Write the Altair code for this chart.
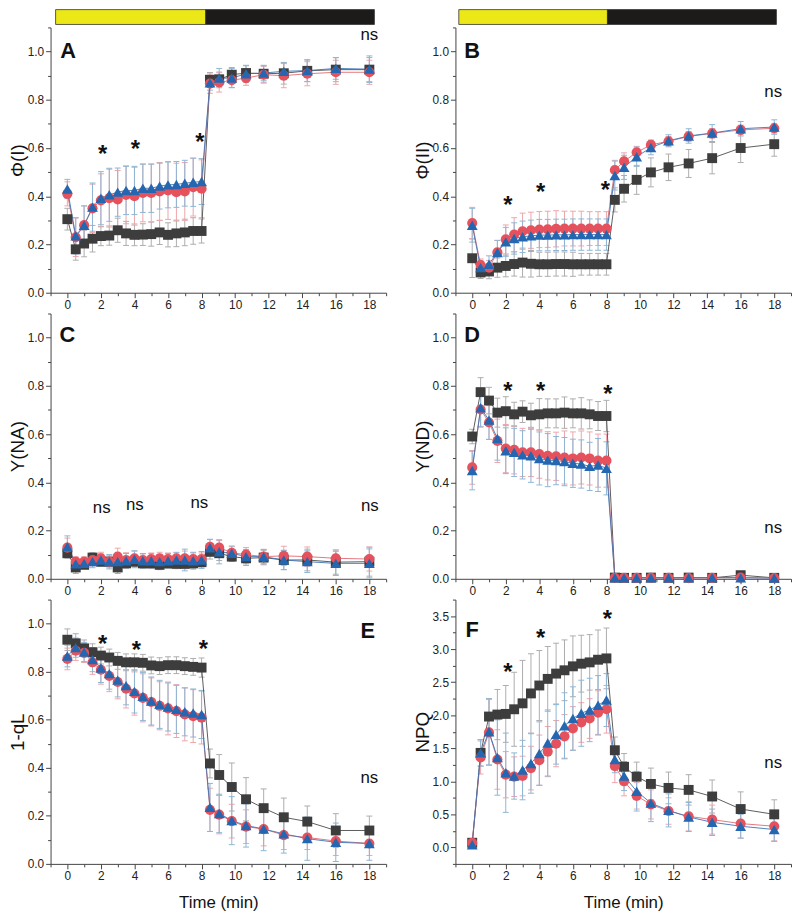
import altair as alt
import pandas as pd

# ---------------- data ----------------
T = [0, 0.5, 1, 1.5, 2, 2.5, 3, 3.5, 4, 4.5, 5, 5.5, 6, 6.5, 7, 7.5, 8,
     8.5, 9.05, 9.8, 10.65, 11.7, 12.9, 14.3, 16, 18]

# Panel A  Φ(I)
A_K = [0.305, 0.18, 0.204, 0.224, 0.235, 0.237, 0.259, 0.246, 0.24, 0.241, 0.243, 0.25, 0.24, 0.246, 0.25, 0.256, 0.256,
       0.883, 0.885, 0.904, 0.911, 0.908, 0.91, 0.92, 0.925, 0.925]
A_R = [0.41, 0.23, 0.28, 0.35, 0.383, 0.392, 0.387, 0.406, 0.40, 0.414, 0.414, 0.42, 0.424, 0.417, 0.42, 0.438, 0.431,
       0.867, 0.872, 0.881, 0.89, 0.904, 0.90, 0.908, 0.914, 0.914]
A_B = [0.43, 0.236, 0.28, 0.355, 0.392, 0.406, 0.417, 0.424, 0.424, 0.433, 0.433, 0.442, 0.447, 0.449, 0.454, 0.458, 0.461,
       0.87, 0.89, 0.89, 0.908, 0.911, 0.918, 0.921, 0.93, 0.927]
A_K_E = [0.045, 0.045, 0.055, 0.055, 0.04, 0.04, 0.05, 0.05, 0.045, 0.045, 0.05, 0.05, 0.05, 0.055, 0.055, 0.055, 0.05,
         0.03, 0.03, 0.03, 0.03, 0.035, 0.045, 0.045, 0.05, 0.05]
A_R_E = [0.05, 0.08, 0.08, 0.1, 0.11, 0.12, 0.12, 0.12, 0.12, 0.12, 0.12, 0.12, 0.12, 0.12, 0.12, 0.12, 0.12,
         0.04, 0.04, 0.03, 0.03, 0.035, 0.05, 0.05, 0.05, 0.05]
A_B_E = [0.04, 0.075, 0.08, 0.1, 0.11, 0.11, 0.1, 0.1, 0.1, 0.1, 0.1, 0.095, 0.095, 0.095, 0.095, 0.1, 0.095,
         0.03, 0.04, 0.04, 0.035, 0.03, 0.035, 0.045, 0.045, 0.055]

# Panel B  Φ(II)
B_K = [0.143, 0.084, 0.088, 0.104, 0.111, 0.119, 0.125, 0.12, 0.118, 0.118, 0.119, 0.119, 0.118, 0.118, 0.118, 0.118, 0.118,
       0.385, 0.431, 0.468, 0.499, 0.52, 0.536, 0.558, 0.6, 0.616]
B_R = [0.289, 0.115, 0.104, 0.167, 0.221, 0.241, 0.255, 0.259, 0.262, 0.263, 0.265, 0.266, 0.266, 0.266, 0.266, 0.266, 0.266,
       0.509, 0.545, 0.582, 0.613, 0.628, 0.648, 0.661, 0.675, 0.682]
B_B = [0.28, 0.104, 0.118, 0.167, 0.211, 0.225, 0.232, 0.236, 0.239, 0.239, 0.24, 0.24, 0.241, 0.241, 0.241, 0.241, 0.241,
       0.486, 0.52, 0.564, 0.602, 0.63, 0.65, 0.662, 0.68, 0.687]
B_K_E = [0.08, 0.025, 0.03, 0.04, 0.045, 0.05, 0.06, 0.055, 0.05, 0.05, 0.05, 0.05, 0.05, 0.045, 0.045, 0.045, 0.045,
         0.05, 0.055, 0.06, 0.06, 0.055, 0.058, 0.065, 0.06, 0.05]
B_R_E = [0.065, 0.025, 0.03, 0.05, 0.06, 0.07, 0.075, 0.075, 0.075, 0.075, 0.075, 0.072, 0.072, 0.072, 0.07, 0.07, 0.07,
         0.04, 0.035, 0.025, 0.02, 0.02, 0.02, 0.02, 0.02, 0.02]
B_B_E = [0.07, 0.03, 0.035, 0.05, 0.06, 0.065, 0.065, 0.065, 0.065, 0.065, 0.065, 0.065, 0.065, 0.065, 0.065, 0.065, 0.065,
         0.06, 0.05, 0.04, 0.03, 0.025, 0.03, 0.035, 0.03, 0.03]

# Panel C  Y(NA)
C_K = [0.106, 0.047, 0.058, 0.088, 0.071, 0.071, 0.047, 0.064, 0.071, 0.064, 0.064, 0.058, 0.064, 0.062, 0.062, 0.064, 0.069,
       0.112, 0.106, 0.092, 0.085, 0.088, 0.078, 0.078, 0.069, 0.071]
C_R = [0.129, 0.071, 0.071, 0.078, 0.085, 0.071, 0.092, 0.078, 0.085, 0.078, 0.082, 0.085, 0.082, 0.085, 0.085, 0.082, 0.082,
       0.133, 0.129, 0.108, 0.1, 0.092, 0.095, 0.092, 0.085, 0.082]
C_B = [0.133, 0.062, 0.064, 0.071, 0.078, 0.071, 0.071, 0.075, 0.081, 0.075, 0.075, 0.071, 0.075, 0.078, 0.078, 0.075, 0.078,
       0.129, 0.112, 0.106, 0.092, 0.092, 0.078, 0.071, 0.064, 0.064]
C_K_E = [0.02, 0.025, 0.015, 0.02, 0.02, 0.02, 0.025, 0.02, 0.02, 0.02, 0.02, 0.02, 0.02, 0.02, 0.02, 0.02, 0.02,
         0.03, 0.03, 0.02, 0.03, 0.03, 0.04, 0.045, 0.05, 0.06]
C_R_E = [0.04, 0.02, 0.02, 0.025, 0.025, 0.025, 0.035, 0.03, 0.03, 0.025, 0.025, 0.025, 0.025, 0.025, 0.03, 0.025, 0.025,
         0.03, 0.03, 0.025, 0.03, 0.03, 0.04, 0.04, 0.035, 0.05]
C_B_E = [0.045, 0.02, 0.02, 0.025, 0.025, 0.03, 0.03, 0.03, 0.035, 0.03, 0.03, 0.03, 0.03, 0.03, 0.045, 0.035, 0.035,
         0.035, 0.05, 0.03, 0.03, 0.03, 0.04, 0.045, 0.05, 0.06]

# Panel D  Y(ND)
D_K = [0.59, 0.774, 0.739, 0.689, 0.695, 0.682, 0.693, 0.678, 0.682, 0.686, 0.686, 0.689, 0.686, 0.686, 0.682, 0.675, 0.675,
       0.005, 0.004, 0.004, 0.005, 0.004, 0.005, 0.004, 0.015, 0.004]
D_R = [0.462, 0.702, 0.648, 0.572, 0.54, 0.535, 0.524, 0.524, 0.517, 0.51, 0.508, 0.503, 0.499, 0.503, 0.499, 0.49, 0.49,
       0.004, 0.004, 0.004, 0.004, 0.004, 0.003, 0.004, 0.005, 0.003]
D_B = [0.449, 0.709, 0.658, 0.582, 0.531, 0.524, 0.514, 0.51, 0.499, 0.492, 0.49, 0.486, 0.479, 0.476, 0.466, 0.472, 0.458,
       0.004, 0.004, 0.004, 0.004, 0.004, 0.004, 0.005, 0.004, 0.003]
D_K_E = [0.03, 0.06, 0.055, 0.06, 0.06, 0.05, 0.045, 0.05, 0.065, 0.06, 0.06, 0.065, 0.06, 0.065, 0.06, 0.06, 0.065,
         0.003, 0.003, 0.003, 0.003, 0.003, 0.003, 0.003, 0.008, 0.003]
D_R_E = [0.07, 0.07, 0.07, 0.09, 0.1, 0.1, 0.1, 0.1, 0.1, 0.1, 0.1, 0.11, 0.11, 0.11, 0.11, 0.11, 0.11,
         0.003, 0.003, 0.003, 0.003, 0.003, 0.003, 0.003, 0.004, 0.003]
D_B_E = [0.08, 0.08, 0.08, 0.09, 0.095, 0.1, 0.1, 0.11, 0.11, 0.11, 0.1, 0.1, 0.1, 0.1, 0.1, 0.11, 0.11,
         0.003, 0.003, 0.003, 0.003, 0.003, 0.003, 0.003, 0.004, 0.003]

# Panel E  1-qL
E_K = [0.933, 0.918, 0.897, 0.881, 0.867, 0.859, 0.845, 0.839, 0.839, 0.837, 0.826, 0.823, 0.827, 0.827, 0.823, 0.82, 0.817,
       0.418, 0.37, 0.32, 0.269, 0.232, 0.194, 0.176, 0.139, 0.139]
E_R = [0.853, 0.887, 0.878, 0.839, 0.808, 0.782, 0.757, 0.729, 0.709, 0.691, 0.674, 0.658, 0.647, 0.636, 0.622, 0.615, 0.609,
       0.225, 0.205, 0.178, 0.155, 0.145, 0.12, 0.11, 0.095, 0.085]
E_B = [0.865, 0.9, 0.882, 0.85, 0.815, 0.792, 0.765, 0.742, 0.718, 0.697, 0.678, 0.664, 0.653, 0.643, 0.633, 0.628, 0.622,
       0.235, 0.21, 0.18, 0.16, 0.145, 0.125, 0.105, 0.09, 0.085]
E_K_E = [0.045, 0.04, 0.035, 0.035, 0.035, 0.035, 0.035, 0.035, 0.035, 0.035, 0.035, 0.035, 0.035, 0.035, 0.035, 0.035, 0.04,
         0.06, 0.085, 0.1, 0.09, 0.08, 0.08, 0.065, 0.07, 0.06]
E_R_E = [0.045, 0.04, 0.04, 0.05, 0.06, 0.065, 0.07, 0.08, 0.09, 0.1, 0.1, 0.1, 0.11, 0.11, 0.11, 0.11, 0.11,
         0.09, 0.08, 0.07, 0.07, 0.07, 0.06, 0.05, 0.06, 0.05]
E_B_E = [0.045, 0.04, 0.04, 0.05, 0.06, 0.065, 0.07, 0.08, 0.09, 0.1, 0.1, 0.1, 0.1, 0.1, 0.1, 0.1, 0.1,
         0.1, 0.08, 0.1, 0.09, 0.09, 0.08, 0.09, 0.08, 0.07]

# Panel F  NPQ
F_K = [0.07, 1.43, 1.98, 2.01, 2.02, 2.09, 2.18, 2.33, 2.45, 2.55, 2.63, 2.68, 2.74, 2.78, 2.8, 2.84, 2.86,
       1.47, 1.22, 1.07, 0.96, 0.9, 0.87, 0.77, 0.58, 0.5]
F_R = [0.07, 1.36, 1.74, 1.33, 1.1, 1.07, 1.08, 1.2, 1.32, 1.45, 1.57, 1.68, 1.8, 1.89, 1.95, 2.04, 2.09,
       1.23, 1.0, 0.78, 0.65, 0.55, 0.47, 0.42, 0.36, 0.32]
F_B = [0.04, 1.43, 1.75, 1.36, 1.13, 1.08, 1.17, 1.27, 1.42, 1.58, 1.71, 1.84, 1.95, 2.03, 2.08, 2.15, 2.23,
       1.33, 1.08, 0.85, 0.67, 0.56, 0.46, 0.38, 0.32, 0.27]
F_K_E = [0.02, 0.2, 0.27, 0.38, 0.43, 0.56, 0.65, 0.6, 0.53, 0.49, 0.46, 0.46, 0.46, 0.43, 0.42, 0.45, 0.46,
         0.2, 0.2, 0.22, 0.24, 0.24, 0.23, 0.25, 0.26, 0.22]
F_R_E = [0.02, 0.25, 0.5, 0.45, 0.35, 0.3, 0.3, 0.33, 0.38, 0.38, 0.35, 0.33, 0.33, 0.3, 0.3, 0.33, 0.36,
         0.25, 0.22, 0.2, 0.22, 0.2, 0.22, 0.22, 0.22, 0.22]
F_B_E = [0.02, 0.2, 0.5, 0.57, 0.6, 0.35, 0.45, 0.45, 0.48, 0.5, 0.45, 0.5, 0.48, 0.5, 0.48, 0.45, 0.4,
         0.2, 0.22, 0.3, 0.28, 0.25, 0.22, 0.2, 0.18, 0.18]

# Annotations
A_STARS = [(2.1, 0.60), (4.05, 0.62), (7.9, 0.65)]
A_NS = [(18.0, 1.07)]
B_STARS = [(2.13, 0.39), (4.08, 0.44), (7.93, 0.45)]
B_NS = [(17.94, 0.83)]
C_STARS = []
C_NS = [(2.05, 0.295), (4.02, 0.305), (7.87, 0.316), (18.03, 0.302)]
D_STARS = [(2.13, 0.805), (4.08, 0.805), (8.08, 0.79)]
D_NS = [(17.94, 0.209)]
E_STARS = [(2.1, 0.94), (4.12, 0.914), (8.1, 0.92)]
E_NS = [(18.0, 0.358)]
F_STARS = [(2.13, 2.74), (4.08, 3.26), (8.06, 3.54)]
F_NS = [(17.94, 1.28)]

# light (yellow) / dark (black) bar: start, switch, end (min)
BAR_LEFT = [-0.7, 8.25, 18.3]
BAR_RIGHT = [-0.8, 8.06, 18.13]

# ---------------- styling ----------------
FONT = "Liberation Sans"
SERIES = ["K", "R", "B"]
MARK_COL = {"K": "#3d3d3d", "R": "#e5525d", "B": "#2467b0"}
LINE_COL = {"K": "#4a4a4a", "R": "#e06a73", "B": "#3a74b4"}
ERR_COL = {"K": "#adadad", "R": "#eea5ab", "B": "#8db6d5"}
SHAPE = {"K": "square", "R": "circle", "B": "triangle-up"}
SIZE = {"K": 100, "R": 105, "B": 120}
YELLOW = "#ece717"
DARK = "#1d1a1a"
W = 339

XS = alt.Scale(domain=[-1, 19], nice=False, zero=False)
XTICKS = list(range(-1, 20))
Y01 = [round(i * 0.1, 1) for i in range(0, 12)]
YNPQ = [round(-0.25 + 0.25 * i, 2) for i in range(0, 17)]


def x_axis():
    return alt.Axis(values=XTICKS,
                    labelExpr="datum.value % 2 == 0 ? datum.label : ''",
                    tickSize={"condition": {"test": "datum.value % 2 != 0", "value": 3}, "value": 5},
                    grid=False)


def y_axis(vals, mult):
    test = f"round(datum.value*{mult}) % 2"
    return alt.Axis(values=vals,
                    labelExpr=f"{test} == 0 ? format(datum.value, '.1f') : ''",
                    tickSize={"condition": {"test": f"{test} != 0", "value": 3}, "value": 5},
                    grid=False)


def panel(series, ytitle, ydom, yvals, mult, letter, letter_xy, stars, nss, bar, xtitle, h):
    xt = "Time (min)" if xtitle else None
    ys = alt.Scale(domain=ydom, nice=False, zero=False)
    xa = x_axis()
    ya = y_axis(yvals, mult)

    def X(f):
        return alt.X(f, type="quantitative", scale=XS, axis=xa, title=xt)

    def Y(f):
        return alt.Y(f, type="quantitative", scale=ys, axis=ya, title=ytitle)

    layers = []
    if bar:
        bdf = pd.DataFrame({"x0": [bar[0], bar[1]], "x1": [bar[1], bar[2]], "c": [YELLOW, DARK]})
        layers.append(alt.Chart(bdf).mark_rect(stroke="#333333", strokeWidth=0.8).encode(
            x=X("x0"), x2="x1", y=alt.value(-18), y2=alt.value(-3),
            color=alt.Color("c:N", scale=None)))

    dfs = {}
    for s in SERIES:
        v, e = series[s]
        df = pd.DataFrame({"t": T, "v": v, "e": e})
        df["lo"] = df["v"] - df["e"]
        df["hi"] = df["v"] + df["e"]
        dfs[s] = df

    for s in SERIES:
        base = alt.Chart(dfs[s])
        layers.append(base.mark_rule(color=ERR_COL[s], strokeWidth=1).encode(x=X("t"), y=Y("lo"), y2="hi"))
        for f in ["lo", "hi"]:
            layers.append(base.mark_tick(color=ERR_COL[s], orient="horizontal", size=6,
                                         thickness=1, opacity=1).encode(x=X("t"), y=Y(f)))
    for s in SERIES:
        layers.append(alt.Chart(dfs[s]).mark_line(color=LINE_COL[s], strokeWidth=0.9).encode(
            x=X("t"), y=Y("v")))
    for s in SERIES:
        layers.append(alt.Chart(dfs[s]).mark_point(shape=SHAPE[s], filled=True, size=SIZE[s],
                                                   color=MARK_COL[s], opacity=1).encode(
            x=X("t"), y=Y("v")))

    ldf = pd.DataFrame({"x": [letter_xy[0]], "y": [letter_xy[1]], "s": [letter]})
    layers.append(alt.Chart(ldf).mark_text(font=FONT, fontSize=22, fontWeight="bold", color="#111111",
                                           align="center", baseline="middle").encode(
        x=X("x"), y=Y("y"), text="s:N"))
    if stars:
        sdf = pd.DataFrame({"x": [p[0] for p in stars], "y": [p[1] for p in stars], "s": ["*"] * len(stars)})
        layers.append(alt.Chart(sdf).mark_text(font=FONT, fontSize=24, fontWeight="bold", color="#111111",
                                               align="center", baseline="middle", dy=7).encode(
            x=X("x"), y=Y("y"), text="s:N"))
    if nss:
        ndf = pd.DataFrame({"x": [p[0] for p in nss], "y": [p[1] for p in nss], "s": ["ns"] * len(nss)})
        layers.append(alt.Chart(ndf).mark_text(font=FONT, fontSize=17, color="#111111",
                                               align="center", baseline="middle").encode(
            x=X("x"), y=Y("y"), text="s:N"))
    return alt.layer(*layers).properties(width=W, height=h)


pA = panel({"K": (A_K, A_K_E), "R": (A_R, A_R_E), "B": (A_B, A_B_E)}, "Φ(I)", [0, 1.1], Y01, 10,
           "A", (0.05, 1.0), A_STARS, A_NS, BAR_LEFT, False, 268)
pB = panel({"K": (B_K, B_K_E), "R": (B_R, B_R_E), "B": (B_B, B_B_E)}, "Φ(II)", [0, 1.1], Y01, 10,
           "B", (0.0, 1.0), B_STARS, B_NS, BAR_RIGHT, False, 268)
pC = panel({"K": (C_K, C_K_E), "R": (C_R, C_R_E), "B": (C_B, C_B_E)}, "Y(NA)", [0, 1.1], Y01, 10,
           "C", (0.0, 1.01), C_STARS, C_NS, None, False, 268)
pD = panel({"K": (D_K, D_K_E), "R": (D_R, D_R_E), "B": (D_B, D_B_E)}, "Y(ND)", [0, 1.1], Y01, 10,
           "D", (0.0, 1.01), D_STARS, D_NS, None, False, 268)
pE = panel({"K": (E_K, E_K_E), "R": (E_R, E_R_E), "B": (E_B, E_B_E)}, "1-qL", [0, 1.1], Y01, 10,
           "E", (17.9, 0.97), E_STARS, E_NS, None, True, 267)
pF = panel({"K": (F_K, F_K_E), "R": (F_R, F_R_E), "B": (F_B, F_B_E)}, "NPQ", [-0.25, 3.75], YNPQ, 4,
           "F", (0.0, 3.29), F_STARS, F_NS, None, True, 267)

chart = alt.vconcat(
    alt.hconcat(pA, pB, spacing=26),
    alt.hconcat(pC, pD, spacing=26),
    alt.hconcat(pE, pF, spacing=26),
    spacing=2,
).properties(
    padding={"left": 0, "top": -4, "right": 0, "bottom": 0}, background="white"
).configure_view(
    stroke=None
).configure_axis(
    domainColor="#444444", tickColor="#444444", domainWidth=1, tickWidth=1,
    labelColor="#222222", labelFont=FONT, labelFontSize=12, labelPadding=2,
    titleFont=FONT, titleFontWeight="normal", titleColor="#111111"
).configure_axisX(
    titleFontSize=17, titlePadding=13
).configure_axisY(
    titleFontSize=19, titlePadding=0
)

chart.save("out.html", embed_options={"renderer": "svg", "actions": False})
